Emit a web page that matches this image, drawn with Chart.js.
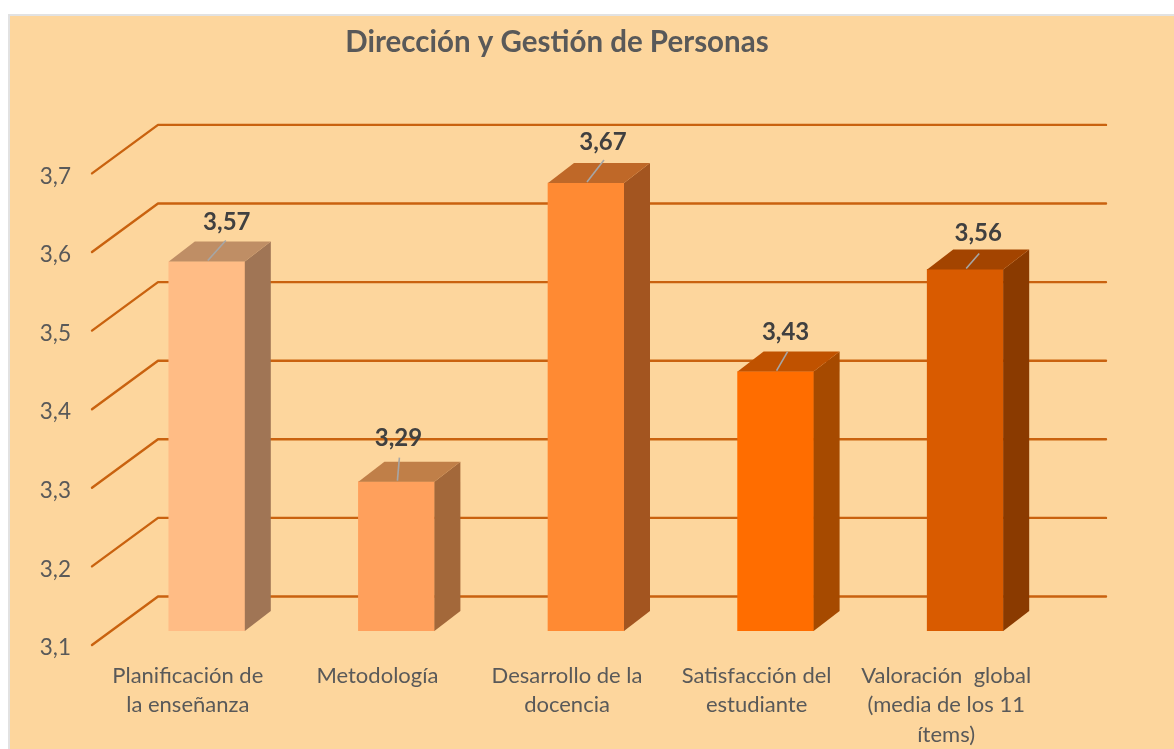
<!DOCTYPE html>
<html lang="es">
<head>
<meta charset="utf-8">
<title>Dirección y Gestión de Personas</title>
<script src="https://cdn.jsdelivr.net/npm/chart.js@4"></script>
<style>
html,body{margin:0;padding:0;background:#fff;width:1174px;height:749px;overflow:hidden}
#panel{position:absolute;left:8px;top:14px;width:1166px;height:735px;box-sizing:border-box;background:#FDD69D;border-left:2px solid #E2E2E2;border-top:2px solid #E2E2E2}
canvas{position:absolute;left:0;top:0}
</style>
</head>
<body>
<div id="panel"></div>
<canvas id="c" width="1174" height="749"></canvas>
<script>
const chartTitle = 'Dirección y Gestión de Personas';
const categories = [
  ['Planificación de', 'la enseñanza'],
  ['Metodología'],
  ['Desarrollo de la', 'docencia'],
  ['Satisfacción del', 'estudiante'],
  ['Valoración  global', '(media de los 11', 'ítems)']
];
const values = [3.57, 3.29, 3.67, 3.43, 3.56];
const frontColors = ['#FFBC85', '#FFA05C', '#FF8A33', '#FF6D00', '#D95B00'];
const sideColors  = ['#A07555', '#A3683A', '#A35520', '#A64A00', '#8A3A00'];
const topColors   = ['#BF8E65', '#C07F48', '#BF6828', '#C05200', '#A34400'];
const labelShift  = [[20, -39], [2, -43], [17, -41], [10, -39], [13, -36]];
const leaderEnd   = [[19, -21], [3, -24], [18, -23], [12, -20], [14, -16]];

const GRID = '#C9620F', TEXT = '#595959', DEPTH_X = 26, DEPTH_Y = -20;

const comma = v => Number(v).toFixed(2).replace('.', ',');

const wall3d = {
  id: 'wall3d',
  afterLayout(chart) {
    chart.scales.y.left = 20;
  },
  beforeDatasetsDraw(chart) {
    const {ctx, chartArea: a, scales: {y}} = chart;
    ctx.save();
    ctx.strokeStyle = GRID;
    ctx.lineWidth = 2.4;
    ctx.lineCap = 'round';
    ctx.lineJoin = 'round';
    y.ticks.forEach(t => {
      const p = y.getPixelForValue(t.value);
      ctx.beginPath();
      ctx.moveTo(a.left - 20, p + 14);
      ctx.lineTo(a.left + 46, p - 34.5);
      ctx.lineTo(a.right + 46, p - 34.5);
      ctx.stroke();
    });
    ctx.restore();
  },
  afterDatasetsDraw(chart) {
    const {ctx} = chart;
    const bars = chart.getDatasetMeta(0).data;
    ctx.save();
    bars.forEach((b, i) => {
      const l = b.x - b.width / 2, r = b.x + b.width / 2, t = b.y, bt = b.base;
      ctx.fillStyle = sideColors[i];
      ctx.beginPath();
      ctx.moveTo(r, t);
      ctx.lineTo(r + DEPTH_X, t + DEPTH_Y);
      ctx.lineTo(r + DEPTH_X, bt + DEPTH_Y);
      ctx.lineTo(r, bt);
      ctx.closePath();
      ctx.fill();
      ctx.fillStyle = topColors[i];
      ctx.beginPath();
      ctx.moveTo(l, t);
      ctx.lineTo(l + DEPTH_X, t + DEPTH_Y);
      ctx.lineTo(r + DEPTH_X, t + DEPTH_Y);
      ctx.lineTo(r, t);
      ctx.closePath();
      ctx.fill();
      ctx.strokeStyle = '#A6A6A6';
      ctx.lineWidth = 1.6;
      ctx.beginPath();
      ctx.moveTo(b.x + 1, t - 1);
      ctx.lineTo(b.x + leaderEnd[i][0], t + leaderEnd[i][1]);
      ctx.stroke();
      ctx.fillStyle = '#404040';
      ctx.font = 'bold 24px Lato, sans-serif';
      ctx.textAlign = 'center';
      ctx.textBaseline = 'middle';
      ctx.fillText(comma(values[i]), b.x + labelShift[i][0], t + labelShift[i][1]);
    });
    ctx.restore();
  }
};

new Chart(document.getElementById('c'), {
  type: 'bar',
  data: {
    labels: categories,
    datasets: [{
      label: chartTitle,
      data: values,
      backgroundColor: frontColors,
      barThickness: 76,
      base: 3.1
    }]
  },
  options: {
    responsive: false,
    animation: false,
    layout: {padding: {left: 54, right: 114, top: 25, bottom: 0}},
    plugins: {
      legend: {display: false},
      tooltip: {enabled: false},
      title: {
        display: true,
        text: chartTitle,
        color: TEXT,
        font: {family: 'Lato, sans-serif', size: 29.5, weight: 'bold', lineHeight: 1.2},
        padding: {top: 0, bottom: 99}
      }
    },
    scales: {
      x: {
        grid: {display: false},
        border: {display: false},
        afterFit(s) { s.height = 118; },
        ticks: {
          color: TEXT,
          font: {family: 'Lato, sans-serif', size: 22, lineHeight: 1.34},
          padding: 22,
          labelOffset: -19,
          maxRotation: 0,
          autoSkip: false
        }
      },
      y: {
        min: 3.1,
        max: 3.7,
        grid: {display: false},
        border: {display: false},
        afterFit(s) { s.width = 58; },
        ticks: {
          stepSize: 0.1,
          color: TEXT,
          font: {family: 'Lato, sans-serif', size: 22.5},
          padding: 33,
          labelOffset: 17,
          callback: v => Number(v).toFixed(1).replace('.', ',')
        }
      }
    }
  },
  plugins: [wall3d]
});
</script>
</body>
</html>
